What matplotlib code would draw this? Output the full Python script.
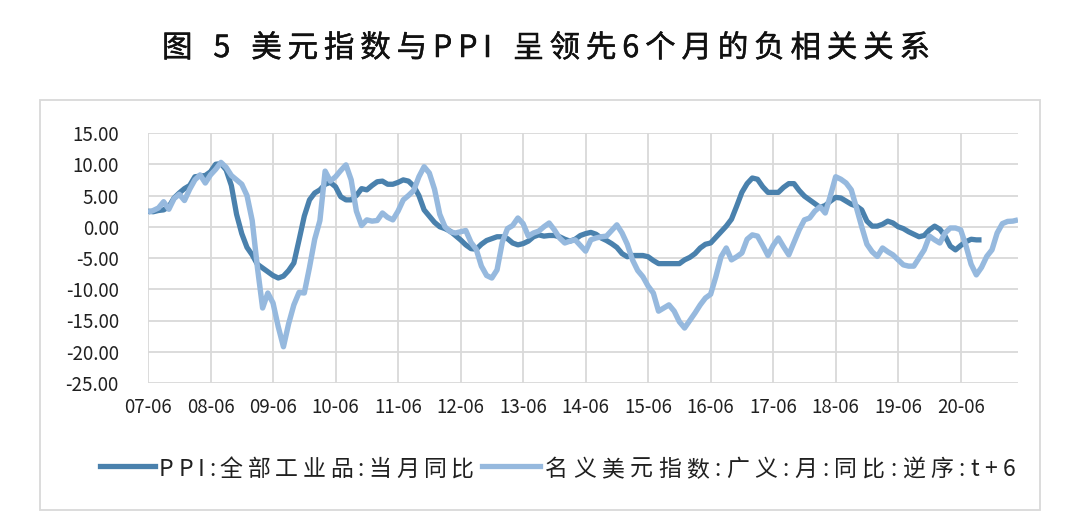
import matplotlib
matplotlib.use('Agg')
import matplotlib.pyplot as plt
import numpy as np
from matplotlib.font_manager import FontProperties
from matplotlib.lines import Line2D
from matplotlib.patches import Rectangle
import matplotlib.patheffects as pe

FAM = ['Noto Sans CJK SC', 'DejaVu Sans']
plt.rcParams['font.family'] = FAM

# ---------------- data ----------------
title = "图 5 美元指数与PPI 呈领先6个月的负相关关系"
series_names = ["PPI:全部工业品:当月同比", "名义美元指数:广义:月:同比:逆序:t+6"]
tick_labels = ["07-06", "08-06", "09-06", "10-06", "11-06", "12-06", "13-06",
               "14-06", "15-06", "16-06", "17-06", "18-06", "19-06", "20-06"]
y_ticks = [-25, -20, -15, -10, -5, 0, 5, 10, 15]

# monthly from 2007-06
ppi = [2.5, 2.4, 2.6, 2.7, 3.2, 4.6, 5.4,
       6.1, 6.6, 8.0, 8.1, 8.2, 8.8, 10.0, 10.1, 9.1, 6.6, 2.0, -1.1,
       -3.3, -4.5, -6.0, -6.6, -7.2, -7.8, -8.2, -7.9, -7.0, -5.8, -2.1, 1.7,
       4.3, 5.4, 5.9, 6.8, 7.1, 6.4, 4.8, 4.3, 4.3, 5.0, 6.1, 5.9,
       6.6, 7.2, 7.3, 6.8, 6.8, 7.1, 7.5, 7.3, 6.5, 5.0, 2.7, 1.7,
       0.7, 0.0, -0.3, -0.7, -1.4, -2.1, -2.9, -3.5, -3.6, -2.8, -2.2, -1.9,
       -1.6, -1.6, -1.9, -2.6, -2.9, -2.7, -2.3, -1.6, -1.3, -1.5, -1.4, -1.4,
       -1.6, -2.0, -2.3, -2.0, -1.4, -1.1, -0.9, -1.2, -1.8, -2.2, -2.7, -3.3,
       -4.3, -4.8, -4.6, -4.6, -4.6, -4.8, -5.4, -5.9, -5.9, -5.9, -5.9, -5.9,
       -5.3, -4.9, -4.3, -3.4, -2.8, -2.6, -1.7, -0.8, 0.1, 1.2, 3.3, 5.5,
       6.9, 7.8, 7.6, 6.4, 5.5, 5.5, 5.5, 6.3, 6.9, 6.9, 5.8, 4.9,
       4.3, 3.7, 3.1, 3.4, 4.1, 4.7, 4.6, 4.1, 3.6, 3.3, 2.7, 0.9,
       0.1, 0.1, 0.4, 0.9, 0.6, 0.0, -0.3, -0.8, -1.2, -1.6, -1.4, -0.5,
       0.1, -0.4, -1.5, -3.1, -3.7, -3.0, -2.4, -2.0, -2.1, -2.1]

usd = [2.3, 2.6, 3.0, 4.0, 2.8, 4.5, 5.2, 4.2, 6.0, 7.5, 8.3, 7.0,
       8.3, 9.2, 10.3, 9.5, 8.2, 7.5, 6.8, 5.0, 1.0, -6.5, -13.0, -10.6,
       -12.2, -16.0, -19.2, -15.5, -12.5, -10.5, -10.6, -6.5, -2.0, 1.0, 8.9, 7.3,
       8.0, 9.0, 9.9, 7.5, 2.5, 0.2, 1.1, 0.9, 1.0, 2.2, 1.5, 1.1,
       2.5, 4.3, 5.0, 5.8, 8.0, 9.6, 8.6, 6.0, 2.0, 0.0, -0.8, -1.0,
       -0.8, -0.6, -2.5, -3.6, -6.3, -7.8, -8.2, -6.9, -2.5, -0.3, 0.2, 1.4,
       0.5, -1.5, -1.0, -0.7, 0.0, 0.6, -0.5, -1.8, -2.6, -2.3, -2.1, -3.0,
       -3.9, -2.1, -1.8, -1.6, -1.5, -0.6, 0.3, -1.0, -2.8, -5.3, -7.0, -8.0,
       -9.5, -10.6, -13.5, -13.0, -12.5, -13.5, -15.2, -16.2, -15.0, -13.8, -12.5, -11.4,
       -10.8, -8.0, -4.8, -3.4, -5.3, -4.8, -4.2, -2.0, -1.3, -1.5, -3.0, -4.6,
       -3.0, -1.8, -3.2, -4.5, -2.5, -0.5, 1.1, 1.4, 2.5, 3.2, 2.2, 5.0,
       8.0, 7.6, 7.0, 5.9, 3.0, 0.0, -2.8, -4.0, -4.75, -3.4, -4.0, -4.5,
       -5.3, -6.1, -6.3, -6.3, -5.0, -3.7, -1.5, -2.1, -2.6, -1.0, -0.2, -0.2,
       -0.5, -3.0, -6.0, -7.7, -6.5, -4.75, -3.7, -1.0, 0.5, 0.85, 0.9, 1.1]

DARK = '#4a81ad'
LIGHT = '#96b9de'
GRID = '#d9d9d9'

W, H = 1080, 526
fig = plt.figure(figsize=(W / 100, H / 100), dpi=100)


def fx(px):
    return px / W


def fy(py):
    return 1 - py / H


# outer border
fig.add_artist(Rectangle((fx(40), fy(510)), fx(1040) - fx(40), (510 - 100) / H,
                         transform=fig.transFigure, fill=False, ec=GRID, lw=1.3))

ax = fig.add_axes([fx(148), fy(383), fx(1018) - fx(148), (383 - 133) / H])
ax.plot(np.arange(len(ppi)), ppi, color=DARK, lw=3.8, solid_joinstyle='round',
        solid_capstyle='butt', zorder=3)
ax.plot(np.arange(len(usd)), usd, color=LIGHT, lw=3.9, solid_joinstyle='round',
        solid_capstyle='butt', zorder=4)
ax.set_xlim(0, len(usd) - 1)
ax.set_ylim(-25, 15)
ax.set_yticks(y_ticks)
ax.set_yticklabels([f'{v:.2f}' for v in y_ticks])
ax.set_xticks(np.arange(len(tick_labels)) * 12)
ax.set_xticklabels(tick_labels)
ax.grid(True, color=GRID, lw=1.3, zorder=0)
ax.set_axisbelow(True)
for s in ax.spines.values():
    s.set_visible(False)
ax.tick_params(axis='y', length=0, pad=21, labelsize=13.5, labelcolor='#202020')
ax.tick_params(axis='x', length=0, pad=10, labelsize=13.5, labelcolor='#202020')

renderer = fig.canvas.get_renderer()


def tracked(s, x0, x1, baseline, size, color='#202020', weight='normal', stroke=0.0):
    fp = FontProperties(family=FAM, size=size, weight=weight)
    ws = []
    for ch in s:
        if ch == ' ':
            ws.append(size * 100 / 72 * 0.3)
        else:
            w, h, d = renderer.get_text_width_height_descent(ch, fp, ismath=False)
            ws.append(w)
    gap = ((x1 - x0) - sum(ws)) / (len(s) - 1)
    x = x0
    effects = [pe.withStroke(linewidth=stroke, foreground=color)] if stroke else None
    for ch, w in zip(s, ws):
        if ch != ' ':
            fig.text(fx(x), fy(baseline), ch, fontproperties=fp, color=color,
                     ha='left', va='baseline', path_effects=effects)
        x += w + gap


tracked(title, 162, 930, 57, 22, color='#111111', stroke=0.35)

# legend
fig.add_artist(Line2D([fx(100), fx(155)], [fy(466), fy(466)], color=DARK, lw=3.8,
                      transform=fig.transFigure))
fig.add_artist(Line2D([fx(482), fx(540)], [fy(466), fy(466)], color=LIGHT, lw=3.8,
                      transform=fig.transFigure))
tracked(series_names[0], 159, 474, 476, 16.5)
tracked(series_names[1], 545, 1015, 476, 16.5)

fig.savefig('out.png', dpi=100)
